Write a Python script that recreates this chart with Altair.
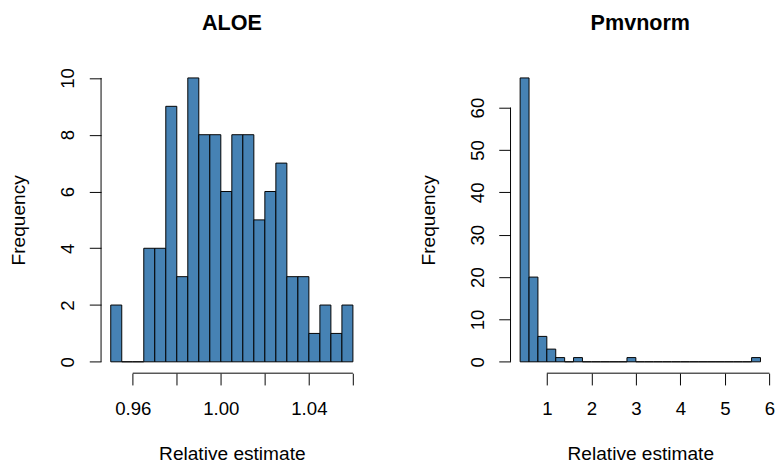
import altair as alt
import pandas as pd

FONT = "Liberation Sans"
BAR_FILL = "#4682B4"

# ALOE histogram (bin width 0.005)
aloe_bin_start = [0.950, 0.955, 0.960, 0.965, 0.970, 0.975, 0.980, 0.985, 0.990, 0.995, 1.000,
                  1.005, 1.010, 1.015, 1.020, 1.025, 1.030, 1.035, 1.040, 1.045, 1.050, 1.055]
aloe_bin_end = [0.955, 0.960, 0.965, 0.970, 0.975, 0.980, 0.985, 0.990, 0.995, 1.000, 1.005,
                1.010, 1.015, 1.020, 1.025, 1.030, 1.035, 1.040, 1.045, 1.050, 1.055, 1.060]
aloe_counts = [2, 0, 0, 4, 4, 9, 3, 10, 8, 8, 6, 8, 8, 5, 6, 7, 3, 3, 1, 2, 1, 2]
aloe_xticks = [0.96, 0.98, 1.00, 1.02, 1.04, 1.06]
aloe_yticks = [0, 2, 4, 6, 8, 10]

# Pmvnorm histogram (bin width 0.2)
pmv_bin_start = [0.4, 0.6, 0.8, 1.0, 1.2, 1.4, 1.6, 1.8, 2.0, 2.2, 2.4, 2.6, 2.8, 3.0,
                 3.2, 3.4, 3.6, 3.8, 4.0, 4.2, 4.4, 4.6, 4.8, 5.0, 5.2, 5.4, 5.6]
pmv_bin_end = [0.6, 0.8, 1.0, 1.2, 1.4, 1.6, 1.8, 2.0, 2.2, 2.4, 2.6, 2.8, 3.0, 3.2,
               3.4, 3.6, 3.8, 4.0, 4.2, 4.4, 4.6, 4.8, 5.0, 5.2, 5.4, 5.6, 5.8]
pmv_counts = [67, 20, 6, 3, 1, 0, 1, 0, 0, 0, 0, 0, 1, 0,
              0, 0, 0, 0, 0, 0, 0, 0, 0, 0, 0, 0, 1]
pmv_xticks = [1, 2, 3, 4, 5, 6]
pmv_yticks = [0, 10, 20, 30, 40, 50, 60]


def panel(title, starts, ends, counts, xticks, yticks, width, label_expr):
    df = pd.DataFrame({"start": starts, "end": ends, "count": counts})
    xr = ends[-1] - starts[0]
    xdom = [starts[0] - 0.04 * xr, ends[-1] + 0.04 * xr]
    ymax = max(counts)
    ydom = [-0.04 * ymax, ymax * 1.04]

    xaxis = alt.Axis(
        values=xticks, title="Relative estimate", grid=False, domain=False,
        tickSize=12, tickColor="black", tickWidth=1,
        labelFont=FONT, labelFontSize=19, labelColor="black", labelPadding=15,
        labelFlush=False, labelOverlap=False, labelExpr=label_expr,
        titleFont=FONT, titleFontSize=19.5, titleFontWeight="normal", titleColor="black",
        titlePadding=27,
    )
    yaxis = alt.Axis(
        values=yticks, title="Frequency", grid=False, domain=False,
        tickSize=12, tickColor="black", tickWidth=1,
        labelFont=FONT, labelFontSize=19, labelColor="black", labelPadding=16,
        labelAngle=270, labelAlign="center", labelBaseline="alphabetic",
        labelOverlap=False, labelFlush=False,
        titleFont=FONT, titleFontSize=19.5, titleFontWeight="normal", titleColor="black",
        titlePadding=31,
    )
    xs = alt.Scale(domain=xdom, nice=False, zero=False)
    ys = alt.Scale(domain=ydom, nice=False, zero=False)

    bars = alt.Chart(df).mark_rect(fill=BAR_FILL, stroke="black", strokeWidth=1).encode(
        x=alt.X("start:Q", scale=xs, axis=xaxis),
        x2="end:Q",
        y=alt.Y("count:Q", scale=ys, axis=yaxis),
        y2=alt.datum(0),
    )
    xline = alt.Chart(pd.DataFrame({"a": [xticks[0]], "b": [xticks[-1]], "y": [ydom[0]]})).mark_rule(
        color="black", strokeWidth=1).encode(
        x=alt.X("a:Q", scale=xs, axis=xaxis), x2="b:Q", y=alt.Y("y:Q", scale=ys, axis=yaxis))
    yline = alt.Chart(pd.DataFrame({"x": [xdom[0]], "a": [yticks[0]], "b": [yticks[-1]]})).mark_rule(
        color="black", strokeWidth=1).encode(
        x=alt.X("x:Q", scale=xs, axis=xaxis), y=alt.Y("a:Q", scale=ys, axis=yaxis), y2="b:Q")

    return alt.layer(bars, xline, yline).properties(
        width=width, height=313,
        title=alt.TitleParams(title, font=FONT, fontSize=22, fontWeight="bold", color="black",
                              anchor="middle", frame="group", offset=32),
    )


left = panel("ALOE", aloe_bin_start, aloe_bin_end, aloe_counts, aloe_xticks, aloe_yticks, 267,
             "round(datum.value * 100) % 4 == 0 ? format(datum.value, '.2f') : ''")
right = panel("Pmvnorm", pmv_bin_start, pmv_bin_end, pmv_counts, pmv_xticks, pmv_yticks, 265,
              "datum.label")

chart = alt.hconcat(left, right, spacing=57).properties(
    padding={"left": 1, "top": 0, "right": 0, "bottom": 0},
    background="white",
).configure_view(strokeWidth=0, stroke="transparent")

chart.save("out.html", embed_options={"renderer": "svg", "actions": False})
